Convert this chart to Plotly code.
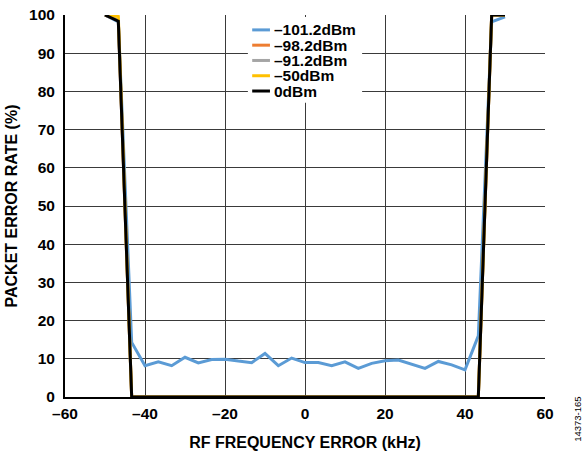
import plotly.graph_objects as go

freq_khz = [-50, -46.67, -43.33, -40, -36.67, -33.33, -30, -26.67, -23.33, -20,
            -16.67, -13.33, -10, -6.67, -3.33, 0, 3.33, 6.67, 10, 13.33,
            16.67, 20, 23.33, 26.67, 30, 33.33, 36.67, 40, 43.33, 46.67, 50]

per_m101_2 = [100, 98.2, 14.3, 8.2, 9.2, 8.2, 10.4, 8.9, 9.8, 9.9,
              9.4, 9.0, 11.4, 8.2, 10.2, 9.0, 9.0, 8.2, 9.2, 7.5,
              8.8, 9.5, 9.7, 8.6, 7.5, 9.3, 8.4, 7.1, 16.0, 98.2, 99.5]
per_m98_2 = [100, 98.6, 0, 0, 0, 0, 0, 0, 0, 0,
             0, 0, 0, 0, 0, 0, 0, 0, 0, 0,
             0, 0, 0, 0, 0, 0, 0, 0, 0, 100, 100]
per_m91_2 = [100, 98.6, 0, 0, 0, 0, 0, 0, 0, 0,
             0, 0, 0, 0, 0, 0, 0, 0, 0, 0,
             0, 0, 0, 0, 0, 0, 0, 0, 0, 100, 100]
per_m50 = [100, 99.6, 0, 0, 0, 0, 0, 0, 0, 0,
           0, 0, 0, 0, 0, 0, 0, 0, 0, 0,
           0, 0, 0, 0, 0, 0, 0, 0, 0, 100, 100]
per_0 = [100, 98.4, 0, 0, 0, 0, 0, 0, 0, 0,
         0, 0, 0, 0, 0, 0, 0, 0, 0, 0,
         0, 0, 0, 0, 0, 0, 0, 0, 0, 100, 100]

series_names = ["–101.2dBm", "–98.2dBm", "–91.2dBm", "–50dBm", "0dBm"]
series_values = [per_m101_2, per_m98_2, per_m91_2, per_m50, per_0]
series_colors = ["#5B9BD5", "#ED7D31", "#A5A5A5", "#FFC000", "#000000"]

x_ticks = [-60, -40, -20, 0, 20, 40, 60]
x_tick_text = ["–60", "–40", "–20", "0", "20", "40", "60"]
y_ticks = [0, 10, 20, 30, 40, 50, 60, 70, 80, 90, 100]

FONT = "Liberation Sans, Arial, sans-serif"

fig = go.Figure()
for name, vals, color in zip(series_names, series_values, series_colors):
    fig.add_trace(go.Scatter(
        x=freq_khz, y=vals, name=name, mode="lines",
        line=dict(color=color, width=3), showlegend=False,
    ))

fig.update_layout(
    width=584, height=451,
    margin=dict(l=65, r=39, t=15, b=54, autoexpand=False),
    paper_bgcolor="white", plot_bgcolor="white",
    font=dict(family=FONT, size=15.5, color="black"),
    showlegend=False,
)

fig.update_xaxes(
    range=[-60, 60], tickvals=x_ticks, ticktext=x_tick_text,
    automargin=False,
    showgrid=True, gridcolor="#3a3a3a", gridwidth=1,
    showline=True, linecolor="black", linewidth=2, mirror=False,
    zeroline=False, ticks="", ticklen=0, ticklabelstandoff=1,
    ticklabeloverflow="allow",
    tickfont=dict(family=FONT, size=15.5, weight="bold"),
    title=dict(text="RF FREQUENCY ERROR (kHz)", standoff=19,
               font=dict(family=FONT, size=16, weight="bold")),
)
fig.update_yaxes(
    range=[0, 100], tickvals=y_ticks,
    automargin=False,
    showgrid=True, gridcolor="#3a3a3a", gridwidth=1,
    showline=True, linecolor="black", linewidth=2, mirror=False,
    zeroline=False, ticks="", ticklen=0, ticklabelstandoff=5,
    ticklabeloverflow="allow",
    tickfont=dict(family=FONT, size=15.5, weight="bold"),
    title=dict(text="PACKET ERROR RATE (%)", standoff=7,
               font=dict(family=FONT, size=16, weight="bold")),
)

# Legend box (drawn manually to match the compact row spacing)
fig.add_shape(type="rect", xref="paper", yref="paper",
              x0=0.381, x1=0.619, y0=0.770, y1=0.995,
              fillcolor="white", line=dict(width=0), layer="above")
row_top = 0.961
row_step = 0.040
for i, (name, color) in enumerate(zip(series_names, series_colors)):
    yy = row_top - i * row_step
    fig.add_shape(type="line", xref="paper", yref="paper",
                  x0=0.390, x1=0.427, y0=yy, y1=yy,
                  line=dict(color=color, width=3), layer="above")
    fig.add_annotation(text=name, xref="paper", yref="paper",
                       x=0.431, y=yy, xanchor="left", yanchor="middle",
                       showarrow=False,
                       font=dict(family=FONT, size=15.5, color="black",
                                 weight="bold"))

fig.add_annotation(
    text="14373-165", xref="paper", yref="paper",
    x=1.066, y=-0.058, textangle=-90, showarrow=False,
    font=dict(family=FONT, size=9.5, color="black"),
    xanchor="center", yanchor="middle",
)

fig.write_html("out.html",
               config={"displayModeBar": False},
               post_script="document.body.style.margin='0';"
                           "document.body.style.overflow='hidden';")
